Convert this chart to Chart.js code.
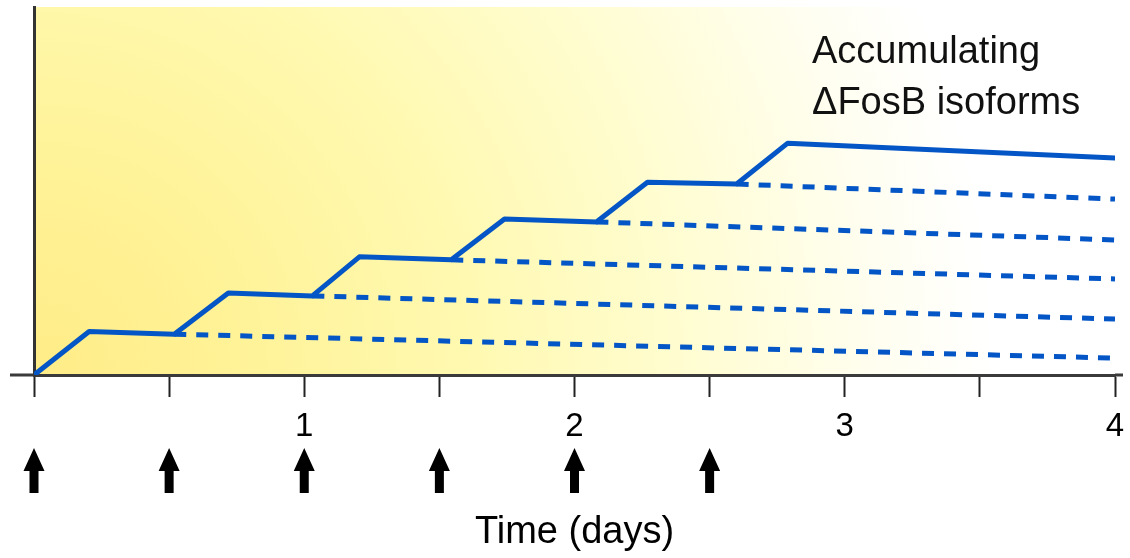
<!DOCTYPE html>
<html>
<head>
<meta charset="utf-8">
<script src="https://cdn.jsdelivr.net/npm/chart.js@4"></script>
<style>
html,body{margin:0;padding:0;background:#fff;}
#wrap{width:1130px;height:558px;position:relative;}
</style>
</head>
<body>
<div id="wrap"><canvas id="c" width="1130" height="558"></canvas></div>
<script>
// ---- Data (x in days, y in relative ΔFosB level, 0–100) ----
const solidX = [0, 0.204, 0.519, 0.719, 1.030, 1.204, 1.544, 1.741, 2.081, 2.270, 2.600, 2.789, 4];
const solidY = [0, 11.8, 11.1, 22.3, 21.5, 32.1, 31.3, 42.4, 41.6, 52.4, 51.9, 63.0, 59.0];

const decay1X = [0.519, 4]; const decay1Y = [11.1, 4.6];
const decay2X = [1.030, 4]; const decay2Y = [21.5, 15.2];
const decay3X = [1.544, 4]; const decay3Y = [31.3, 26.1];
const decay4X = [2.081, 4]; const decay4Y = [41.6, 36.7];
const decay5X = [2.600, 4]; const decay5Y = [51.9, 47.8];

const doseTimes = [0, 0.5, 1, 1.5, 2, 2.5];
const tickValues = [0, 0.5, 1, 1.5, 2, 2.5, 3, 3.5, 4];
const tickLabels = ['', '', '1', '', '2', '', '3', '', '4'];
const annotationLines = ['Accumulating', '\u0394FosB isoforms'];
const axisTitle = 'Time (days)';

const BLUE = '#0455c6';
const FONT = "'Liberation Sans', Arial, Helvetica, sans-serif";

function pts(xs, ys) { return xs.map((x, i) => ({x: x, y: ys[i]})); }

const dashedStyle = {
  borderColor: BLUE, borderWidth: 5, borderDash: [12, 10], borderCapStyle: 'butt',
  pointRadius: 0, tension: 0, fill: false
};

const bgPlugin = {
  id: 'bg',
  beforeDraw(chart) {
    const {ctx, chartArea: a} = chart;
    const g = ctx.createRadialGradient(a.left, a.bottom, 0, a.left, a.bottom, 960);
    g.addColorStop(0, 'rgb(255,236,135)');
    g.addColorStop(0.2, 'rgb(255,242,150)');
    g.addColorStop(0.45, 'rgb(255,249,176)');
    g.addColorStop(0.7, 'rgb(255,253,212)');
    g.addColorStop(0.88, 'rgb(255,254,240)');
    g.addColorStop(1, 'rgb(255,255,255)');
    ctx.save();
    ctx.fillStyle = g;
    ctx.fillRect(a.left, a.top, a.right - a.left, a.bottom - a.top);
    ctx.restore();
  }
};

const decoPlugin = {
  id: 'deco',
  afterDraw(chart) {
    const {ctx, chartArea: a} = chart;
    const xs = chart.scales.x;
    ctx.save();
    // axis line extensions
    ctx.strokeStyle = '#3a3a3a';
    ctx.lineWidth = 3;
    ctx.beginPath();
    ctx.moveTo(10, a.bottom); ctx.lineTo(a.left, a.bottom);
    ctx.moveTo(a.right, a.bottom); ctx.lineTo(1123, a.bottom);
    ctx.stroke();
    // dose arrows
    ctx.fillStyle = '#000';
    doseTimes.forEach(t => {
      const x = xs.getPixelForValue(t);
      ctx.beginPath();
      ctx.moveTo(x, 448);
      ctx.lineTo(x + 10.5, 471);
      ctx.lineTo(x + 4.5, 471);
      ctx.lineTo(x + 4.5, 493);
      ctx.lineTo(x - 4.5, 493);
      ctx.lineTo(x - 4.5, 471);
      ctx.lineTo(x - 10.5, 471);
      ctx.closePath();
      ctx.fill();
    });
    // annotation text
    ctx.fillStyle = '#111';
    ctx.font = '38px ' + FONT;
    ctx.textAlign = 'left';
    ctx.textBaseline = 'alphabetic';
    ctx.fillText(annotationLines[0], 812, 63);
    ctx.fillText(annotationLines[1], 812, 114);
    ctx.restore();
  }
};

new Chart(document.getElementById('c'), {
  type: 'line',
  data: {
    datasets: [
      {data: pts(solidX, solidY), borderColor: BLUE, borderWidth: 5, pointRadius: 0, tension: 0, fill: false, borderJoinStyle: 'round', borderCapStyle: 'round'},
      Object.assign({data: pts(decay1X, decay1Y)}, dashedStyle),
      Object.assign({data: pts(decay2X, decay2Y)}, dashedStyle),
      Object.assign({data: pts(decay3X, decay3Y)}, dashedStyle),
      Object.assign({data: pts(decay4X, decay4Y)}, dashedStyle),
      Object.assign({data: pts(decay5X, decay5Y)}, dashedStyle)
    ]
  },
  options: {
    responsive: false,
    animation: false,
    devicePixelRatio: 1,
    layout: {padding: {top: 7, right: 15, left: 0, bottom: 0}},
    plugins: {legend: {display: false}, tooltip: {enabled: false}},
    scales: {
      x: {
        type: 'linear', min: 0, max: 4,
        afterBuildTicks(scale) { scale.ticks = tickValues.map(v => ({value: v})); },
        afterFit(scale) { scale.height = 183; scale.paddingRight = 0; scale.paddingLeft = 0; },
        ticks: {
          autoSkip: false, maxRotation: 0, padding: 10, color: '#000',
          font: {family: FONT, size: 33},
          callback(v) { const i = tickValues.indexOf(v); return i >= 0 ? tickLabels[i] : ''; }
        },
        grid: {drawOnChartArea: false, drawTicks: true, tickLength: 22, tickColor: '#222', tickWidth: 2},
        border: {display: true, color: '#3a3a3a', width: 3},
        title: {display: true, text: axisTitle, color: '#000', font: {family: FONT, size: 38}, padding: {top: 0, bottom: 3}}
      },
      y: {
        type: 'linear', min: 0, max: 100,
        afterFit(scale) { scale.width = 34; },
        ticks: {display: false},
        grid: {display: true, drawOnChartArea: false, drawTicks: false, tickLength: 0},
        border: {display: true, color: '#333', width: 3}
      }
    }
  },
  plugins: [bgPlugin, decoPlugin]
});
</script>
</body>
</html>
